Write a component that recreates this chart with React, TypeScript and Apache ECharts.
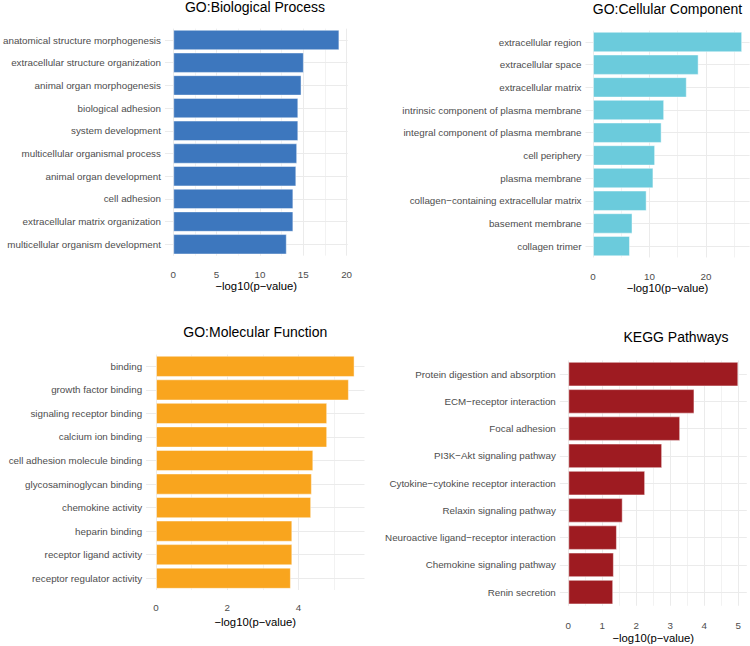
import React, { useEffect, useRef } from "react";
import * as echarts from "echarts";

// ---------- data ----------
const bpTerms = [
  "anatomical structure morphogenesis",
  "extracellular structure organization",
  "animal organ morphogenesis",
  "biological adhesion",
  "system development",
  "multicellular organismal process",
  "animal organ development",
  "cell adhesion",
  "extracellular matrix organization",
  "multicellular organism development",
];
const bpValues = [19.17, 15.07, 14.8, 14.43, 14.43, 14.3, 14.2, 13.86, 13.86, 13.1];
const bpTicks = [0, 5, 10, 15, 20];

const ccTerms = [
  "extracellular region",
  "extracellular space",
  "extracellular matrix",
  "intrinsic component of plasma membrane",
  "integral component of plasma membrane",
  "cell periphery",
  "plasma membrane",
  "collagen\u2212containing extracellular matrix",
  "basement membrane",
  "collagen trimer",
];
const ccValues = [26.4, 18.7, 16.6, 12.6, 12.15, 11.0, 10.7, 9.5, 7.0, 6.55];
const ccTicks = [0, 10, 20];

const mfTerms = [
  "binding",
  "growth factor binding",
  "signaling receptor binding",
  "calcium ion binding",
  "cell adhesion molecule binding",
  "glycosaminoglycan binding",
  "chemokine activity",
  "heparin binding",
  "receptor ligand activity",
  "receptor regulator activity",
];
const mfValues = [5.58, 5.42, 4.81, 4.81, 4.42, 4.38, 4.36, 3.83, 3.83, 3.79];
const mfTicks = [0, 2, 4];

const keggTerms = [
  "Protein digestion and absorption",
  "ECM\u2212receptor interaction",
  "Focal adhesion",
  "PI3K\u2212Akt signaling pathway",
  "Cytokine\u2212cytokine receptor interaction",
  "Relaxin signaling pathway",
  "Neuroactive ligand\u2212receptor interaction",
  "Chemokine signaling pathway",
  "Renin secretion",
];
const keggValues = [5.0, 3.71, 3.29, 2.76, 2.26, 1.6, 1.43, 1.34, 1.32];
const keggTicks = [0, 1, 2, 3, 4, 5];

const titles = ["GO:Biological Process", "GO:Cellular Component", "GO:Molecular Function", "KEGG Pathways"];
const colors = ["#3D77BE", "#6BCBDC", "#F9A51E", "#9E1B21"];
const axisTitle = "\u2212log10(p\u2212value)";

// ---------- layout ----------
const FONT = "'Liberation Sans', Arial, Helvetica, sans-serif";
const layout = [
  { left: 162.6, top: 28.65, width: 185.1, height: 227, titleX: 255, titleY: 0.3, labelMargin: 13.5, nameGap: 24.4 },
  { left: 585.5, top: 30.66, width: 164.1, height: 226.8, titleX: 667.5, titleY: 1.7, labelMargin: 13.6, nameGap: 25.2 },
  { left: 146.1, top: 354.6, width: 218.4, height: 235.4, titleX: 255.3, titleY: 325.3, labelMargin: 12.4, nameGap: 26 },
  { left: 559.8, top: 360.5, width: 187.0, height: 245.25, titleX: 676, titleY: 330.3, labelMargin: 14.3, nameGap: 27 },
];

const panels = [
  { terms: bpTerms, values: bpValues, ticks: bpTicks },
  { terms: ccTerms, values: ccValues, ticks: ccTicks },
  { terms: mfTerms, values: mfValues, ticks: mfTicks },
  { terms: keggTerms, values: keggValues, ticks: keggTicks },
];

export default function App() {
  const ref = useRef<HTMLDivElement>(null);
  useEffect(() => {
    document.body.style.margin = "0";
    if (!ref.current) return;
    const chart = echarts.init(ref.current, undefined, { renderer: "svg" });

    const grids: any[] = [];
    const xAxes: any[] = [];
    const yAxes: any[] = [];
    const series: any[] = [];
    const titleOpts: any[] = [];

    panels.forEach((p, i) => {
      const L = layout[i];
      const maxV = Math.max(...p.values);
      const step = p.ticks[1] - p.ticks[0];
      grids.push({ left: L.left, top: L.top, width: L.width, height: L.height, containLabel: false });
      titleOpts.push({
        text: titles[i],
        left: L.titleX,
        top: L.titleY,
        textAlign: "center",
        padding: 0,
        textStyle: { fontSize: 14, fontWeight: "normal", color: "#000", fontFamily: FONT },
      });
      xAxes.push({
        type: "value",
        gridIndex: i,
        min: -0.05 * maxV,
        max: 1.05 * maxV,
        minInterval: step,
        maxInterval: step,
        name: axisTitle,
        nameLocation: "middle",
        nameGap: L.nameGap,
        nameTextStyle: { fontSize: 11.3, color: "#000", fontFamily: FONT },
        axisLine: { show: false },
        axisTick: { show: false, customValues: p.ticks },
        axisLabel: {
          customValues: p.ticks,
          fontSize: 9.8,
          color: "#4D4D4D",
          fontFamily: FONT,
          margin: L.labelMargin,
        },
        splitLine: { show: true, lineStyle: { color: "#EBEBEB", width: 1 } },
        minorTick: { show: false, splitNumber: 2 },
        minorSplitLine: { show: true, lineStyle: { color: "#F2F2F2", width: 1 } },
      });
      yAxes.push({
        type: "category",
        gridIndex: i,
        data: p.terms,
        inverse: true,
        axisLine: { show: false },
        axisTick: { show: false },
        splitLine: { show: false },
        axisLabel: { fontSize: 9.8, color: "#4D4D4D", fontFamily: FONT, margin: 4 },
      });
      series.push({
        type: "bar",
        xAxisIndex: i,
        yAxisIndex: i,
        data: p.values,
        barCategoryGap: "10%",
        z: 2,
        itemStyle: { color: colors[i], borderColor: "rgba(255,255,255,0.45)", borderWidth: 1 },
        markLine: {
          silent: true,
          z: 1,
          symbol: "none",
          label: { show: false },
          lineStyle: { color: "#EBEBEB", width: 1, type: "solid" },
          emphasis: { disabled: true },
          data: p.terms.map((t) => ({ yAxis: t })),
        },
      });
    });

    chart.setOption({
      animation: false,
      backgroundColor: "#fff",
      title: titleOpts,
      grid: grids,
      xAxis: xAxes,
      yAxis: yAxes,
      series,
    });
    return () => chart.dispose();
  }, []);
  return <div ref={ref} style={{ width: 750, height: 646 }} />;
}
